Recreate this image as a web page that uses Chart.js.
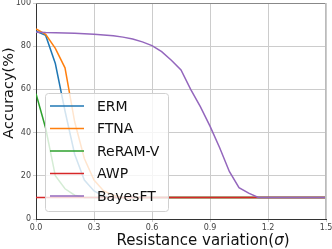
<!DOCTYPE html>
<html>
<head>
<meta charset="utf-8">
<script src="https://cdn.jsdelivr.net/npm/chart.js@4"></script>
<style>
  html, body { margin: 0; padding: 0; background: #fff; }
  #wrap { width: 332px; height: 249px; }
</style>
</head>
<body>
<div id="wrap"><canvas id="chart" width="332" height="249"></canvas></div>
<script>
// sigma values, step 0.05
const sigma = [0, 0.05, 0.1, 0.15, 0.2, 0.25, 0.3, 0.35, 0.4, 0.45, 0.5, 0.55, 0.6, 0.65, 0.7, 0.75,
  0.8, 0.85, 0.9, 0.95, 1.0, 1.05, 1.1, 1.15, 1.2, 1.25, 1.3, 1.35, 1.4, 1.45, 1.5];

const erm    = [87, 85, 72, 50, 30, 18, 13, 10.5, 10, 10, 10, 10, 10, 10, 10, 10,
  10, 10, 10, 10, 10, 10, 10, 10, 10, 10, 10, 10, 10, 10, 10];
const ftna   = [88, 85.5, 79, 70, 45, 28, 18, 13, 11, 10, 10, 10, 10, 10, 10, 10,
  10, 10, 10, 10, 10, 10, 10, 10, 10, 10, 10, 10, 10, 10, 10];
const reramV = [58, 42, 20, 14, 11, 10, 10, 10, 10, 10, 10, 10, 10, 10, 10, 10,
  10, 10, 10, 10, 10, 10, 10, 10, 10, 10, 10, 10, 10, 10, 10];
const awp    = [10, 10, 10, 10, 10, 10, 10, 10, 10, 10, 10, 10, 10, 10, 10, 10,
  10, 10, 10, 10, 10, 10, 10, 10, 10, 10, 10, 10, 10, 10, 10];
const bayesFT = [86.5, 86.3, 86.2, 86.1, 86, 85.8, 85.5, 85.2, 84.8, 84.2, 83.3, 82, 80.3, 77.5, 73.5, 69,
  60, 52, 43, 33, 22, 14.5, 12, 10, 10, 10, 10, 10, 10, 10, 10];

const xTicks = [0, 0.3, 0.6, 0.9, 1.2, 1.5];
const yTicks = [0, 20, 40, 60, 80, 100];

const names = ["ERM", "FTNA", "ReRAM-V", "AWP", "BayesFT"];
const colors = ["#1f77b4", "#ff7f0e", "#2ca02c", "#d62728", "#9467bd"];
const series = [erm, ftna, reramV, awp, bayesFT];

const datasets = series.map((vals, i) => ({
  label: names[i],
  data: vals.map((v, j) => ({ x: sigma[j], y: v })),
  borderColor: colors[i],
  backgroundColor: colors[i],
  borderWidth: 1.5,
  pointRadius: 0,
  tension: 0,
  order: series.length - i
}));

// top/right spines and the two axis titles
const framePlugin = {
  id: 'frame',
  afterDraw(chart) {
    const { ctx, chartArea: a } = chart;
    ctx.save();
    ctx.lineWidth = 1;
    ctx.strokeStyle = '#888';
    ctx.beginPath();
    ctx.moveTo(a.left, a.top + 0.5);
    ctx.lineTo(a.right, a.top + 0.5);
    ctx.stroke();
    ctx.strokeStyle = '#bbb';
    ctx.beginPath();
    ctx.moveTo(a.right - 0.5, a.top);
    ctx.lineTo(a.right - 0.5, a.bottom);
    ctx.stroke();

    // x title, sigma in italics
    ctx.fillStyle = '#111';
    ctx.textBaseline = 'alphabetic';
    ctx.textAlign = 'left';
    const head = 'Resistance variation(';
    ctx.font = '15px "DejaVu Sans"';
    const w1 = ctx.measureText(head).width;
    const w3 = ctx.measureText(')').width;
    ctx.font = 'italic 15px "DejaVu Sans"';
    const w2 = ctx.measureText('σ').width;
    let x = 203 - (w1 + w2 + w3) / 2;
    ctx.font = '15px "DejaVu Sans"';
    ctx.fillText(head, x, 245);
    ctx.font = 'italic 15px "DejaVu Sans"';
    ctx.fillText('σ', x + w1, 245);
    ctx.font = '15px "DejaVu Sans"';
    ctx.fillText(')', x + w1 + w2, 245);

    // y title
    ctx.font = '14.5px "DejaVu Sans"';
    ctx.translate(13, 93);
    ctx.rotate(-Math.PI / 2);
    ctx.textAlign = 'center';
    ctx.fillText('Accuracy(%)', 0, 0);
    ctx.restore();
  }
};

// legend drawn inside the plot, over the lines
const legendPlugin = {
  id: 'innerLegend',
  afterDatasetsDraw(chart) {
    const ctx = chart.ctx;
    const x0 = 45, y0 = 93, w = 123, h = 118, r = 3;
    ctx.save();
    ctx.beginPath();
    ctx.roundRect(x0 + 0.5, y0 + 0.5, w, h, r);
    ctx.fillStyle = 'rgba(255,255,255,0.8)';
    ctx.fill();
    ctx.strokeStyle = '#d0d0d0';
    ctx.lineWidth = 1;
    ctx.stroke();
    ctx.font = '14px "DejaVu Sans"';
    ctx.textBaseline = 'middle';
    names.forEach((n, i) => {
      const y = y0 + 13 + i * 22.5;
      ctx.strokeStyle = colors[i];
      ctx.lineWidth = 1.5;
      ctx.beginPath();
      ctx.moveTo(50, y);
      ctx.lineTo(84, y);
      ctx.stroke();
      ctx.fillStyle = '#111';
      ctx.fillText(n, 97, y + 1);
    });
    ctx.restore();
  }
};

new Chart(document.getElementById('chart'), {
  type: 'line',
  data: { datasets },
  options: {
    responsive: false,
    animation: false,
    layout: { padding: { top: 3, right: 6, left: 0, bottom: 0 } },
    plugins: { legend: { display: false }, tooltip: { enabled: false } },
    scales: {
      x: {
        type: 'linear',
        min: 0, max: 1.5,
        afterBuildTicks: s => { s.ticks = xTicks.map(v => ({ value: v })); },
        afterFit: s => { s.height = 30; s.paddingLeft = 0; s.paddingRight = 0; },
        ticks: {
          font: { family: 'DejaVu Sans', size: 8 },
          color: '#444',
          padding: 1,
          maxRotation: 0,
          callback: v => v.toFixed(1)
        },
        grid: { color: '#cccccc', tickLength: 3 },
        border: { color: '#333' }
      },
      y: {
        min: 0, max: 100,
        afterBuildTicks: s => { s.ticks = yTicks.map(v => ({ value: v })); },
        afterFit: s => { s.width = 36; s.paddingTop = 0; s.paddingBottom = 0; },
        ticks: {
          font: { family: 'DejaVu Sans', size: 8 },
          color: '#444',
          padding: 2
        },
        grid: { color: '#cccccc', tickLength: 3 },
        border: { color: '#333' }
      }
    }
  },
  plugins: [framePlugin, legendPlugin]
});
</script>
</body>
</html>
